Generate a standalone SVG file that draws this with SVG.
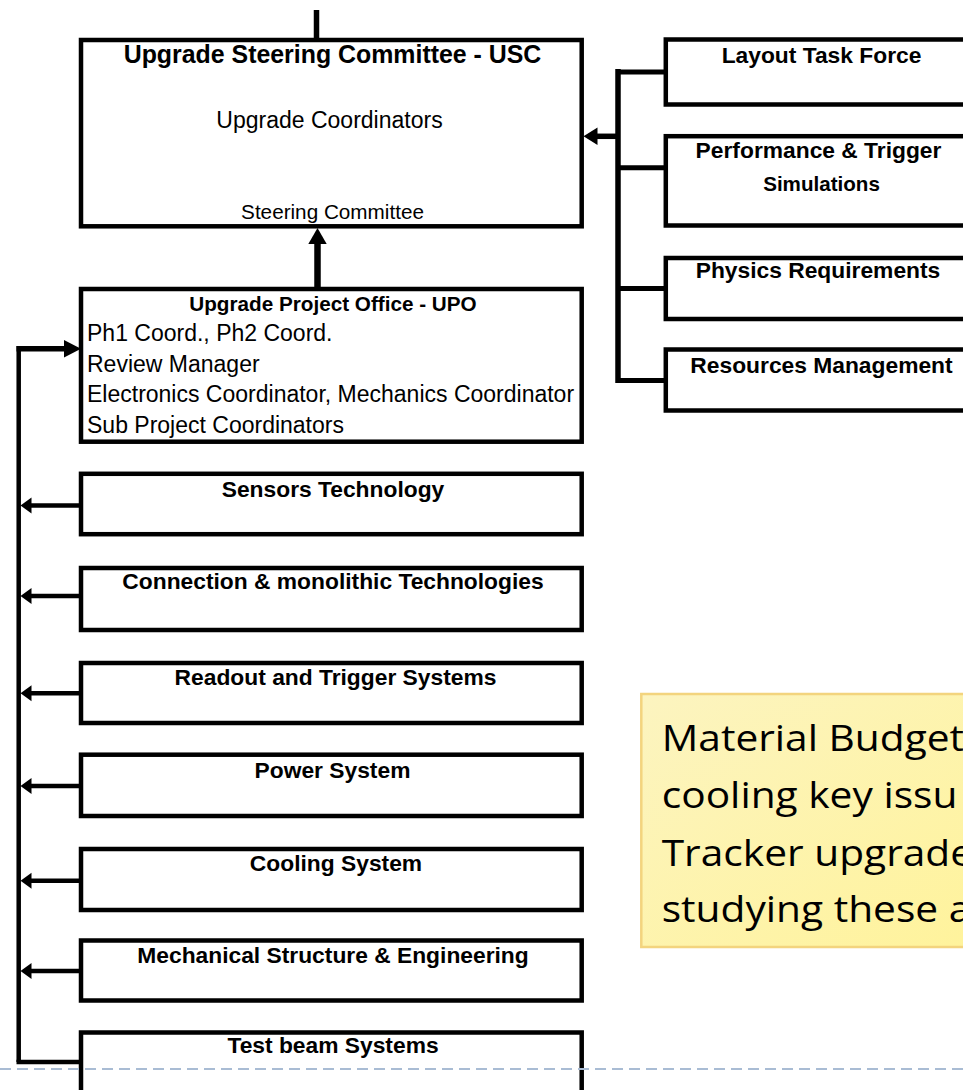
<svg xmlns="http://www.w3.org/2000/svg" width="963" height="1090" viewBox="0 0 963 1090">
<defs>
<style>
.box{fill:#fff;stroke:#000;stroke-width:4.5}
.t{font-family:"Liberation Sans",Arial,sans-serif;font-weight:bold;font-size:22.8px;fill:#000;text-anchor:middle}
.r{font-family:"Liberation Sans",Arial,sans-serif;font-size:23px;fill:#000}
.ln{stroke:#000;fill:none;stroke-linecap:butt}
.ah{fill:#000}
.call{font-family:"Open Sans",sans-serif;font-size:36px;fill:#000}
</style>
<linearGradient id="yg" x1="0" y1="0" x2="1" y2="1">
<stop offset="0" stop-color="#fcf4c0"/>
<stop offset="1" stop-color="#fff39a"/>
</linearGradient>
</defs>
<rect width="963" height="1090" fill="#fff"/>

<g id="connectors">
<line class="ln" x1="316.5" y1="10" x2="316.5" y2="40" stroke-width="5.5"/>
<line class="ln" x1="317.5" y1="289" x2="317.5" y2="242" stroke-width="6.5"/>
<polygon class="ah" points="317.5,228 308.3,244 326.7,244"/>
<line class="ln" x1="618" y1="69" x2="618" y2="383" stroke-width="5.5"/>
<line class="ln" x1="618" y1="72" x2="666" y2="72" stroke-width="5"/>
<line class="ln" x1="618" y1="167.8" x2="666" y2="167.8" stroke-width="5"/>
<line class="ln" x1="618" y1="288.5" x2="666" y2="288.5" stroke-width="5"/>
<line class="ln" x1="618" y1="380.5" x2="666" y2="380.5" stroke-width="5"/>
<line class="ln" x1="618" y1="136.3" x2="596" y2="136.3" stroke-width="5.5"/>
<polygon class="ah" points="583.5,136.3 597.5,127.5 597.5,145.1"/>
<line class="ln" x1="18.7" y1="346" x2="18.7" y2="1062" stroke-width="4.5"/>
<line class="ln" x1="16.5" y1="348.8" x2="66" y2="348.8" stroke-width="5.5"/>
<polygon class="ah" points="81,348.8 64,340.1 64,357.5"/>
<line class="ln" x1="16.5" y1="1062" x2="81" y2="1062" stroke-width="4.5"/>
<g stroke-width="4.5">
<line class="ln" x1="81" y1="505.5" x2="30" y2="505.5"/>
<line class="ln" x1="81" y1="596" x2="30" y2="596"/>
<line class="ln" x1="81" y1="693.3" x2="30" y2="693.3"/>
<line class="ln" x1="81" y1="786" x2="30" y2="786"/>
<line class="ln" x1="81" y1="880.7" x2="30" y2="880.7"/>
<line class="ln" x1="81" y1="971" x2="30" y2="971"/>
</g>
<polygon class="ah" points="20.5,505.5 31.5,497.5 31.5,513.5"/>
<polygon class="ah" points="20.5,596 31.5,588 31.5,604"/>
<polygon class="ah" points="20.5,693.3 31.5,685.3 31.5,701.3"/>
<polygon class="ah" points="20.5,786 31.5,778 31.5,794"/>
<polygon class="ah" points="20.5,880.7 31.5,872.7 31.5,888.7"/>
<polygon class="ah" points="20.5,971 31.5,963 31.5,979"/>
</g>

<g id="usc">
<rect class="box" x="81" y="40" width="500.7" height="186.3"/>
<text class="t" x="332.5" y="63.3" style="font-size:24.9px">Upgrade Steering Committee - USC</text>
<text class="r" x="329.5" y="127.7" text-anchor="middle">Upgrade Coordinators</text>
<text class="r" x="332.5" y="219" text-anchor="middle" style="font-size:20.7px">Steering Committee</text>
</g>

<g id="upo">
<rect class="box" x="81" y="289" width="500.7" height="152.7"/>
<text class="t" x="333" y="311" style="font-size:20.7px">Upgrade Project Office - UPO</text>
<text class="r" x="87" y="341">Ph1 Coord., Ph2 Coord.</text>
<text class="r" x="87" y="372">Review Manager</text>
<text class="r" x="87" y="402">Electronics Coordinator, Mechanics Coordinator</text>
<text class="r" x="87" y="433">Sub Project Coordinators</text>
</g>

<g id="sensors">
<rect class="box" x="81" y="473.8" width="500.7" height="60.4"/>
<text class="t" x="333" y="497">Sensors Technology</text>
</g>
<g id="connection">
<rect class="box" x="81" y="568" width="500.7" height="62"/>
<text class="t" x="333" y="589.3">Connection &amp; monolithic Technologies</text>
</g>
<g id="readout">
<rect class="box" x="81" y="663" width="500.7" height="60"/>
<text class="t" x="335.5" y="685">Readout and Trigger Systems</text>
</g>
<g id="power">
<rect class="box" x="81" y="754.7" width="500.7" height="61.3"/>
<text class="t" x="332.5" y="777.7">Power System</text>
</g>
<g id="cooling">
<rect class="box" x="81" y="849" width="500.7" height="61"/>
<text class="t" x="336" y="871">Cooling System</text>
</g>
<g id="mechanical">
<rect class="box" x="81" y="940.5" width="500.7" height="60"/>
<text class="t" x="333" y="963.3">Mechanical Structure &amp; Engineering</text>
</g>
<g id="testbeam">
<rect class="box" x="81" y="1032.5" width="500.7" height="80"/>
<text class="t" x="333" y="1053">Test beam Systems</text>
</g>

<g id="layout">
<rect class="box" x="665.8" y="39.5" width="320" height="65"/>
<text class="t" x="821.5" y="63.3">Layout Task Force</text>
</g>
<g id="performance">
<rect class="box" x="665.8" y="136.2" width="320" height="89.3"/>
<text class="t" x="818.5" y="158.3">Performance &amp; Trigger</text>
<text class="t" x="821.5" y="190.7" style="font-size:20.6px">Simulations</text>
</g>
<g id="physics">
<rect class="box" x="665.8" y="258" width="320" height="61"/>
<text class="t" x="818" y="278.3">Physics Requirements</text>
</g>
<g id="resources">
<rect class="box" x="665.8" y="349.5" width="320" height="61"/>
<text class="t" x="821.5" y="372.7">Resources Management</text>
</g>

<g id="callout">
<rect x="641.3" y="694" width="360" height="253" fill="url(#yg)" stroke="#f3d47e" stroke-width="2.5"/>
<g transform="translate(661.7,0) scale(1.13,1)">
<text class="call" x="0" y="751">Material Budget</text>
<text class="call" x="0" y="808.3">cooling key issu</text>
<text class="call" x="0" y="865.7">Tracker upgrade</text>
<text class="call" x="0" y="921.7">studying these a</text>
</g>
</g>

<line x1="0" y1="1069" x2="963" y2="1069" stroke="#a9bcd4" stroke-width="2" stroke-dasharray="11,6"/>
</svg>
